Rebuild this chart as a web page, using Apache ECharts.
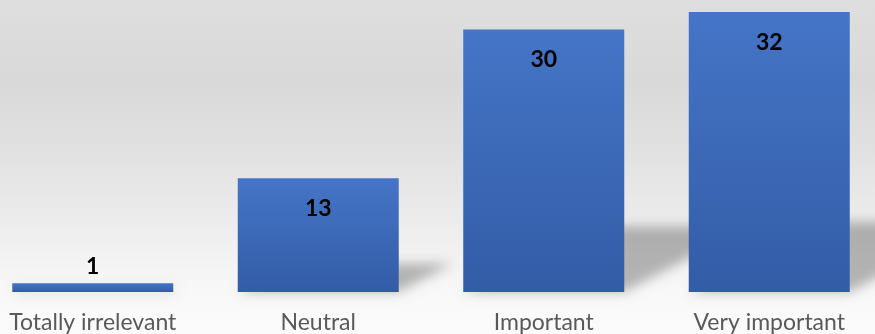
<!DOCTYPE html>
<html>
<head>
<meta charset="utf-8">
<style>
  html, body { margin: 0; padding: 0; background: #fff; overflow: hidden; }
  #wrap { position: relative; width: 875px; height: 334px; overflow: hidden; }
  #chart { position: absolute; left: -20px; top: 0; width: 902px; height: 334px; }
</style>
<script src="https://cdn.jsdelivr.net/npm/echarts@6/dist/echarts.min.js"></script>
</head>
<body>
<div id="wrap"><div id="chart"></div></div>
<script>
// Survey answers: how important is it?
const categories = ['Totally irrelevant', 'Neutral', 'Important', 'Very important'];
const responses = [1, 13, 30, 32];

const BAR_WIDTH = 161;
const chart = echarts.init(document.getElementById('chart'), null, { renderer: 'canvas' });

// Floor shadow cast behind each bar, skewed back to the upper right.
function renderShadow(params, api) {
  const base = api.coord([api.value(0), 0]);
  const top = api.coord([api.value(0), api.value(1)]);
  const h = (base[1] - top[1]) * 0.25;
  const sx = h * 1.9;
  const left = base[0] - BAR_WIDTH / 2;
  const right = base[0] + BAR_WIDTH / 2;
  const off = 3000; // shape sits off-canvas, only its blurred shadow shows
  return {
    type: 'polygon',
    shape: {
      points: [
        [left - off, base[1]],
        [right - off, base[1]],
        [right + sx - off, base[1] - h],
        [left + sx - off, base[1] - h]
      ]
    },
    style: {
      fill: 'rgba(0,0,0,1)',
      shadowBlur: 12,
      shadowColor: 'rgba(0,0,0,0.27)',
      shadowOffsetX: off,
      shadowOffsetY: 0
    }
  };
}

const option = {
  animation: false,
  graphic: [{
    type: 'rect',
    z: -100,
    silent: true,
    shape: { x: 0, y: 0, width: 902, height: 334 },
    style: {
      fill: new echarts.graphic.LinearGradient(0, 0, 0, 1, [
        { offset: 0, color: '#dedede' },
        { offset: 0.25, color: '#d9d9d9' },
        { offset: 0.45, color: '#e1e1e1' },
        { offset: 0.66, color: '#ececec' },
        { offset: 0.78, color: '#f3f3f3' },
        { offset: 0.875, color: '#f8f8f8' },
        { offset: 1, color: '#fbfbfb' }
      ])
    }
  }],
  grid: { left: 0, right: 0, top: 12, bottom: 42 },
  xAxis: {
    type: 'category',
    data: categories,
    axisLine: { show: false },
    axisTick: { show: false },
    axisLabel: {
      margin: 19,
      fontFamily: 'Lato',
      fontSize: 23,
      color: '#595959',
      interval: 0
    }
  },
  yAxis: {
    type: 'value',
    min: 0,
    max: 32,
    show: false,
    splitLine: { show: false }
  },
  series: [
    {
      type: 'custom',
      z: 1,
      clip: false,
      silent: true,
      renderItem: renderShadow,
      data: responses.map((v, i) => [i, v])
    },
    {
      type: 'bar',
      z: 3,
      barWidth: BAR_WIDTH,
      itemStyle: {
        color: new echarts.graphic.LinearGradient(0, 0, 0, 1, [
          { offset: 0, color: '#4575c7' },
          { offset: 1, color: '#335ca6' }
        ])
      },
      label: {
        show: true,
        position: 'insideTop',
        distance: 19,
        fontFamily: 'Lato',
        fontWeight: 'bold',
        fontSize: 23,
        color: '#000'
      },
      data: responses.map(v => v < 3
        ? { value: v, label: { position: 'top', distance: 5 } }
        : v)
    }
  ]
};

chart.setOption(option);
</script>
</body>
</html>
